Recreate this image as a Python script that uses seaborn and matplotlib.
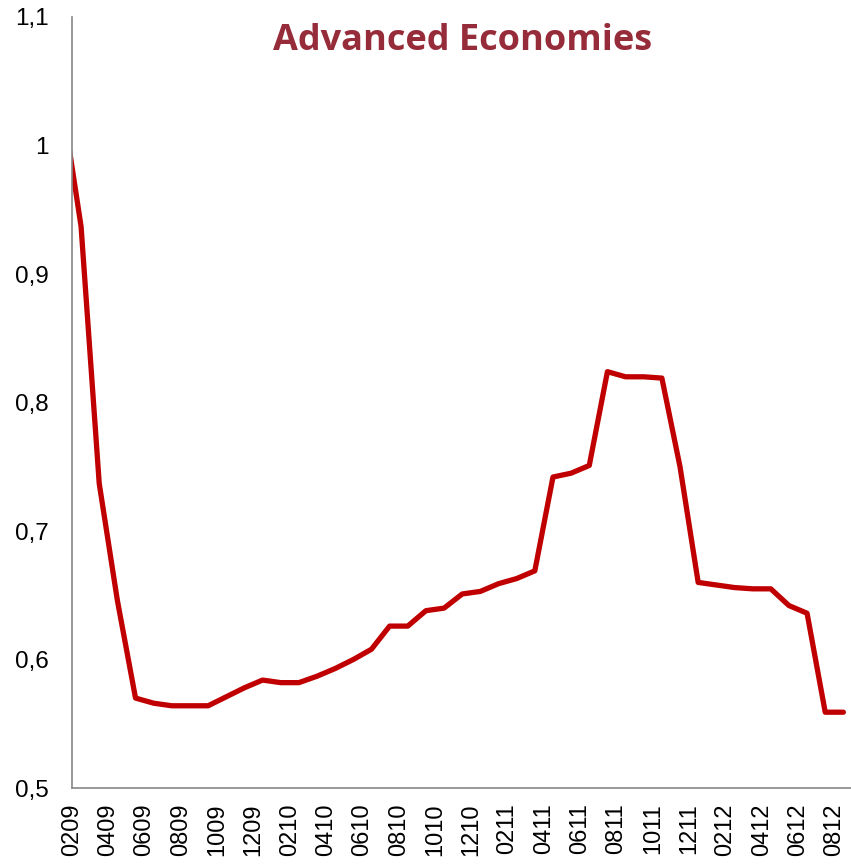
import matplotlib
matplotlib.use("Agg")
import matplotlib.pyplot as plt
import matplotlib.transforms as mtransforms
import numpy as np
import pandas as pd
import seaborn as sns

# monthly data, Jan 2009 .. Aug 2012 (label format MMYY)
months = ['0109', '0209', '0309', '0409', '0509', '0609', '0709', '0809', '0909', '1009', '1109', '1209',
          '0110', '0210', '0310', '0410', '0510', '0610', '0710', '0810', '0910', '1010', '1110', '1210',
          '0111', '0211', '0311', '0411', '0511', '0611', '0711', '0811', '0911', '1011', '1111', '1211',
          '0112', '0212', '0312', '0412', '0512', '0612', '0712', '0812']
values = [1.030, 0.937, 0.737, 0.646, 0.570, 0.566, 0.564, 0.564, 0.564, 0.571, 0.578, 0.584,
          0.582, 0.582, 0.587, 0.593, 0.600, 0.608, 0.626, 0.626, 0.638, 0.640, 0.651, 0.653,
          0.659, 0.663, 0.669, 0.742, 0.745, 0.751, 0.824, 0.820, 0.820, 0.819, 0.750, 0.660,
          0.658, 0.656, 0.655, 0.655, 0.642, 0.636, 0.559, 0.559]
yticks = [0.5, 0.6, 0.7, 0.8, 0.9, 1.0, 1.1]
ytick_labels = ['0,5', '0,6', '0,7', '0,8', '0,9', '1', '1,1']
title = 'Advanced Economies'

# month index relative to Feb 2009, points sit in the middle of each month slot
df = pd.DataFrame({'month': months, 'value': values})
df['pos'] = np.arange(len(df)) - 1 + 0.5

sns.set_style('white')
plt.rcParams['font.family'] = ['Liberation Sans', 'DejaVu Sans']

fig = plt.figure(figsize=(8.51, 8.67), dpi=100)
ax = fig.add_axes([0.0846, 0.0911, 0.9171, 0.8893])

sns.lineplot(data=df, x='pos', y='value', ax=ax, color='#C00000', linewidth=3.8,
             solid_joinstyle='round', solid_capstyle='round')

ax.set_xlim(0, 43)
ax.set_ylim(0.5, 1.1)

# ticks every second month, labelled MMYY
tick_idx = list(range(1, len(months), 2))
ax.set_xticks([i - 1 for i in tick_idx])
ax.set_xticklabels([months[i] for i in tick_idx], rotation=90, fontsize=17)
ax.set_yticks(yticks)
ax.set_yticklabels(ytick_labels, fontsize=17.5)

offset = mtransforms.ScaledTranslation(5 / 100, 0, fig.dpi_scale_trans)
for lbl in ax.get_xticklabels():
    lbl.set_transform(lbl.get_transform() + offset)

ax.set_xlabel('')
ax.set_ylabel('')
for side in ['top', 'right']:
    ax.spines[side].set_visible(False)
for side in ['left', 'bottom']:
    ax.spines[side].set_color('#868686')
    ax.spines[side].set_linewidth(1.2)
ax.tick_params(axis='both', which='both', direction='out', length=6, width=1.2,
               color='#868686', labelcolor='black')
ax.tick_params(axis='x', pad=5)
ax.tick_params(axis='y', pad=11)

fig.text(0.543, 0.953, title, ha='center', va='center', fontsize=26, fontweight='bold',
         color='#962B3A', family=['Open Sans', 'DejaVu Sans'])

fig.savefig('out.png', dpi=100)
